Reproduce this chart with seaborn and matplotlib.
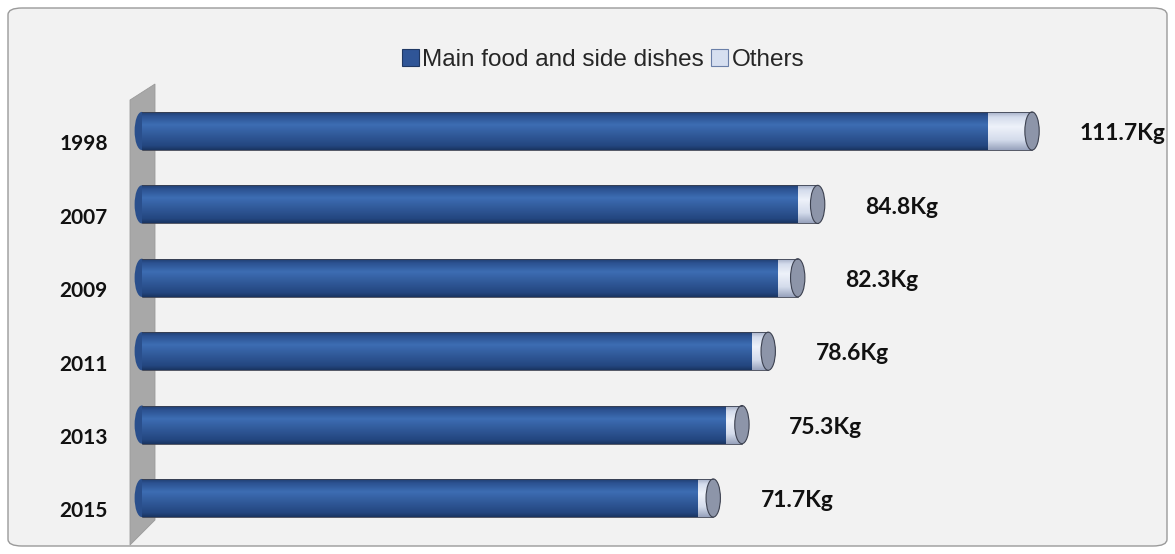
import numpy as np
import pandas as pd
import matplotlib
matplotlib.use("Agg")
import matplotlib.pyplot as plt
import matplotlib.transforms as mtransforms
import seaborn as sns
from matplotlib.patches import Ellipse, Polygon, FancyBboxPatch, Patch
from matplotlib.colors import LinearSegmentedColormap

# ---- data ----
years = ["1998", "2007", "2009", "2011", "2013", "2015"]
main_food = [106.1, 82.3, 79.7, 76.5, 73.2, 69.7]
others = [5.6, 2.5, 2.6, 2.1, 2.1, 2.0]
series_names = ["Main food and side dishes", "Others"]
unit = "Kg"

totals = [round(m + o, 1) for m, o in zip(main_food, others)]
df = pd.DataFrame({"year": years, "main": main_food, "total": totals})

sns.set_theme(style="white")
plt.rcParams["font.family"] = ["Liberation Sans", "DejaVu Sans"]

W, H = 1175, 554
fig = plt.figure(figsize=(W / 100, H / 100), dpi=100)
fig.patch.set_facecolor("white")

# framed background
bg = FancyBboxPatch((8 / W, 8 / H), (1159 / W), (538 / H),
                    boxstyle="round,pad=0,rounding_size=0.012",
                    transform=fig.transFigure, facecolor="#f2f2f2",
                    edgecolor="#9a9a9a", linewidth=1.0, zorder=-3)
fig.patches.append(bg)

# grey wall
def px(x, y):
    return (x / W, 1 - y / H)
wall = Polygon([px(130, 100), px(155, 84), px(155, 520), px(130, 545)],
               closed=True, transform=fig.transFigure,
               facecolor="#a8a8a8", edgecolor="#9a9a9a", lw=0.6, zorder=-2)
fig.patches.append(wall)

ax_left, ax_right = 137, 1160
ax_top, ax_bottom = 94.3, 534.7
ax = fig.add_axes([ax_left / W, 1 - ax_bottom / H, (ax_right - ax_left) / W,
                   (ax_bottom - ax_top) / H])
ax.patch.set_visible(False)

bar_h = 0.52
others_col = "#d6dff0"
main_col = "#2f5597"
sns.barplot(data=df, x="total", y="year", orient="h", color=others_col,
            width=bar_h, saturation=1, ax=ax, edgecolor="none")
n_oth = len(ax.patches)
sns.barplot(data=df, x="main", y="year", orient="h", color=main_col,
            width=bar_h, saturation=1, ax=ax, edgecolor="none")

xmin, xmax = -0.6, -0.6 + (ax_right - ax_left) / 7.97
ax.set_xlim(xmin, xmax)
ax.set_ylim(len(years) - 0.5, -0.5)

cmap_main = LinearSegmentedColormap.from_list(
    "m", [(0, "#1d3a6a"), (0.12, "#2c5291"), (0.35, "#3d6db3"),
          (0.65, "#2f5796"), (0.9, "#23467f"), (1, "#1a3562")])
cmap_oth = LinearSegmentedColormap.from_list(
    "o", [(0, "#9ea9c2"), (0.15, "#d4dcec"), (0.4, "#eef2fa"),
          (0.75, "#d3dbeb"), (1, "#98a3bd")])
grad = np.linspace(0, 1, 64).reshape(-1, 1)

for i, p in enumerate(ax.patches):
    x0, y0 = p.get_x(), p.get_y()
    w, h = p.get_width(), p.get_height()
    cm = cmap_oth if i < n_oth else cmap_main
    z = 2 if i < n_oth else 3
    im = ax.imshow(grad, cmap=cm, aspect="auto", origin="upper",
                   extent=(x0, x0 + w, y0 + h, y0), zorder=z,
                   interpolation="bilinear")
    im.set_clip_path(p)
    if i >= n_oth:
        # rounded left end
        ax.add_patch(Ellipse((x0, y0 + h / 2), 1.8, h, facecolor="#2a4f8c",
                             edgecolor="none", zorder=1.5, clip_on=False))
    else:
        # end cap
        ax.add_patch(Ellipse((x0 + w, y0 + h / 2), 1.8, h, facecolor="#8d95a9",
                             edgecolor="#3c4150", lw=0.8, zorder=4))
        ax.plot([0, x0 + w], [y0, y0], color="#3c4150", lw=0.6, zorder=4)
        ax.plot([0, x0 + w], [y0 + h, y0 + h], color="#3c4150", lw=0.6, zorder=4)

ax.set_xlim(xmin, xmax)
ax.set_ylim(len(years) - 0.5, -0.5)

# value labels
for i, t in enumerate(totals):
    ax.annotate(f"{t}{unit}", xy=(t, i), xytext=(34, -2),
                textcoords="offset points", ha="left", va="center",
                fontsize=16.5, fontweight="bold", family=["Lato", "DejaVu Sans"],
                color="#111111")

ax.set_xlabel("")
ax.set_ylabel("")
ax.set_xticks([])
ax.tick_params(axis="y", length=0, pad=21)
offset = mtransforms.ScaledTranslation(0, -2.5 / 72, fig.dpi_scale_trans)
for lab in ax.get_yticklabels():
    lab.set_fontfamily(["Lato", "DejaVu Sans"])
    lab.set_fontweight("bold")
    lab.set_fontsize(15)
    lab.set_color("#111111")
    lab.set_va("top")
    lab.set_transform(lab.get_transform() + offset)
for s in ax.spines.values():
    s.set_visible(False)

handles = [Patch(facecolor=main_col, edgecolor="#1f3864", lw=0.8),
           Patch(facecolor=others_col, edgecolor="#6a7fa8", lw=0.8)]
fig.legend(handles, series_names, loc="center", bbox_to_anchor=(603 / W, 1 - 60 / H),
           ncol=2, frameon=False, fontsize=17.5, handlelength=0.7,
           handleheight=0.7, handletextpad=0.15, columnspacing=0.3,
           borderpad=0)

fig.savefig("out.png", dpi=100, facecolor=fig.get_facecolor())
